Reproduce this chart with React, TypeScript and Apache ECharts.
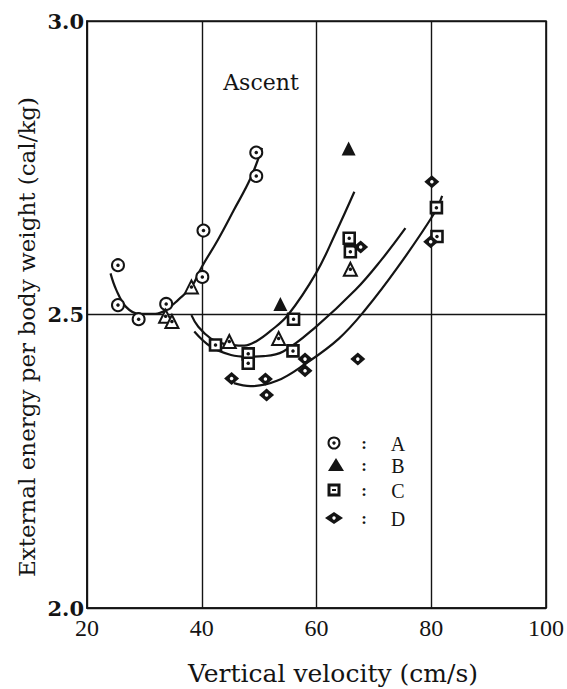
import React, { useEffect, useRef } from "react";
import * as echarts from "echarts";

// Axis ticks
const xTicks = [20, 40, 60, 80, 100];
const yTicks = [2.0, 2.5, 3.0];

// Measured points: [vertical velocity (cm/s), energy (cal/kg)]
const subjectA = [
  [25.4, 2.584], [25.4, 2.516], [29.0, 2.492], [33.8, 2.518],
  [40.1, 2.564], [40.3, 2.643], [49.5, 2.736], [49.5, 2.776],
];
const subjectBSolid = [[53.7, 2.518], [65.6, 2.783]];
const subjectBOpen = [
  [33.7, 2.497], [34.8, 2.488], [38.2, 2.547], [44.8, 2.454],
  [53.4, 2.459], [65.9, 2.577],
];
const subjectC = [
  [42.4, 2.448], [48.1, 2.433], [48.1, 2.417], [55.9, 2.438], [56.0, 2.492],
  [65.7, 2.630], [65.9, 2.607], [80.9, 2.682], [81.0, 2.633],
];
const subjectD = [
  [45.2, 2.391], [51.1, 2.390], [51.3, 2.363], [58.0, 2.424], [58.0, 2.404],
  [67.2, 2.424], [67.7, 2.615], [80.1, 2.726], [79.9, 2.624],
];

// Fitted curves
const curveA = [
  [24.1, 2.570], [25.1, 2.542], [26.8, 2.513], [29.1, 2.501], [31.9, 2.501],
  [33.8, 2.508], [35.9, 2.525], [38.2, 2.547], [40.0, 2.581], [42.8, 2.627],
  [45.6, 2.678], [48.5, 2.732], [50.5, 2.784],
];
const curveB = [
  [38.2, 2.499], [39.4, 2.479], [41.6, 2.459], [43.9, 2.450], [47.4, 2.447],
  [49.6, 2.455], [52.0, 2.472], [55.1, 2.500], [59.9, 2.570], [63.3, 2.638],
  [66.6, 2.709],
];
const curveC = [
  [38.7, 2.471], [41.6, 2.445], [45.1, 2.431], [47.9, 2.428], [50.8, 2.429],
  [54.2, 2.437], [59.9, 2.479], [66.8, 2.542], [71.3, 2.593], [75.5, 2.647],
];
const curveD = [
  [45.6, 2.383], [48.5, 2.378], [53.1, 2.387], [58.2, 2.417], [63.9, 2.459],
  [68.5, 2.508], [74.2, 2.581], [80.5, 2.672], [81.9, 2.702],
];

const legendLabels = ["A", "B", "C", "D"];

const INK = "#141414";
const SLAB = "'DejaVu Serif', 'Liberation Serif', serif";
const SERIF = "'Liberation Serif', 'DejaVu Serif', serif";

function curve(name: string, data: number[][]) {
  return {
    name,
    type: "line",
    data,
    smooth: 0.4,
    showSymbol: false,
    silent: true,
    lineStyle: { color: INK, width: 2.2 },
    z: 2,
  };
}

function marks(name: string, data: number[][], symbol: string, size: any, style: any, z = 3) {
  return {
    name,
    type: "scatter",
    data,
    symbol,
    symbolSize: size,
    itemStyle: { opacity: 1, ...style },
    z,
  };
}

function dots(name: string, data: number[][], color: string) {
  return {
    name,
    type: "scatter",
    data,
    symbol: "circle",
    symbolSize: 3.5,
    itemStyle: { color, opacity: 1 },
    z: 5,
  };
}

export default function App() {
  const ref = useRef<HTMLDivElement>(null);

  useEffect(() => {
    if (!ref.current) return;
    const chart = echarts.init(ref.current, undefined, { renderer: "svg" });

    const open = { color: "#fff", borderColor: INK, borderWidth: 2 };

    // Legend block (symbol, colon, letter)
    const lx = 334;
    const ly = [443, 465, 490, 518];
    const legendGraphics: any[] = [
      { type: "circle", shape: { cx: lx, cy: ly[0], r: 5.5 }, style: { fill: "#fff", stroke: INK, lineWidth: 2 } },
      { type: "circle", shape: { cx: lx, cy: ly[0], r: 1.7 }, style: { fill: INK } },
      { type: "polygon", shape: { points: [[lx + 2, ly[1] - 7], [lx + 10, ly[1] + 6], [lx - 6, ly[1] + 6]] }, style: { fill: INK } },
      { type: "rect", shape: { x: lx - 5, y: ly[2] - 5, width: 10, height: 10 }, style: { fill: "#fff", stroke: INK, lineWidth: 3 } },
      { type: "rect", shape: { x: lx - 2, y: ly[2] - 1, width: 4, height: 2 }, style: { fill: INK } },
      { type: "polygon", shape: { points: [[lx, ly[3] - 6], [lx + 9, ly[3]], [lx, ly[3] + 6], [lx - 9, ly[3]]] }, style: { fill: INK } },
      { type: "circle", shape: { cx: lx, cy: ly[3], r: 1.7 }, style: { fill: "#fff" } },
    ];
    legendLabels.forEach((t, i) => {
      legendGraphics.push({
        type: "text", x: 364, y: ly[i],
        style: { text: ":", font: `bold 17px ${SERIF}`, fill: INK, align: "center", verticalAlign: "middle" },
      });
      legendGraphics.push({
        type: "text", x: 398, y: ly[i] + 1,
        style: { text: t, font: `20px ${SERIF}`, lineHeight: 18, fill: INK, align: "center", verticalAlign: "middle" },
      });
    });

    chart.setOption({
      animation: false,
      backgroundColor: "#fff",
      grid: {
        left: 87, right: 13, top: 21, bottom: 81,
        show: true, borderColor: INK, borderWidth: 1.6, backgroundColor: "transparent",
      },
      xAxis: {
        type: "value", min: xTicks[0], max: xTicks[xTicks.length - 1], interval: 20,
        axisLine: { show: true, lineStyle: { color: INK, width: 1.6 } },
        axisTick: { show: false },
        splitLine: { show: true, lineStyle: { color: INK, width: 1.4 } },
        axisLabel: { color: INK, fontFamily: SERIF, fontSize: 24, margin: 8 },
      },
      yAxis: {
        type: "value", min: yTicks[0], max: yTicks[yTicks.length - 1], interval: 0.5,
        axisLine: { show: true, lineStyle: { color: INK, width: 1.6 } },
        axisTick: { show: false },
        splitLine: { show: true, lineStyle: { color: INK, width: 1.4 } },
        axisLabel: {
          color: INK, fontFamily: SLAB, fontWeight: "bold", fontSize: 21, margin: 3,
          formatter: (v: number) => v.toFixed(1),
        },
      },
      graphic: [
        {
          type: "text", x: 27, y: 337, rotation: Math.PI / 2,
          style: {
            text: "External energy per body weight (cal/kg)",
            font: `23px ${SLAB}`, fill: INK, align: "center", verticalAlign: "middle",
          },
        },
        {
          type: "text", x: 333, y: 673,
          style: {
            text: "Vertical velocity (cm/s)",
            font: `25px ${SLAB}`, fill: INK, align: "center", verticalAlign: "middle",
          },
        },
        {
          type: "text", x: 261, y: 82,
          style: { text: "Ascent", font: `22px ${SLAB}`, fill: INK, align: "center", verticalAlign: "middle" },
        },
        ...legendGraphics,
      ],
      series: [
        curve("curve A", curveA),
        curve("curve B", curveB),
        curve("curve C", curveC),
        curve("curve D", curveD),
        marks("A", subjectA, "circle", 12, open),
        dots("A dot", subjectA, INK),
        marks("B", subjectBSolid, "triangle", 14, { color: INK }),
        marks("B open", subjectBOpen, "triangle", 13, open),
        dots("B dot", subjectBOpen, INK),
        marks("C", subjectC, "rect", 11, { color: "#fff", borderColor: INK, borderWidth: 2.6 }),
        dots("C dot", subjectC, INK),
        marks("D", subjectD, "diamond", [15, 13], { color: INK }),
        dots("D dot", subjectD, "#fff"),
      ],
    });

    return () => chart.dispose();
  }, []);

  return (
    <div
      ref={ref}
      style={{ position: "fixed", left: 0, top: 0, width: 567, height: 689, background: "#fff" }}
    />
  );
}
